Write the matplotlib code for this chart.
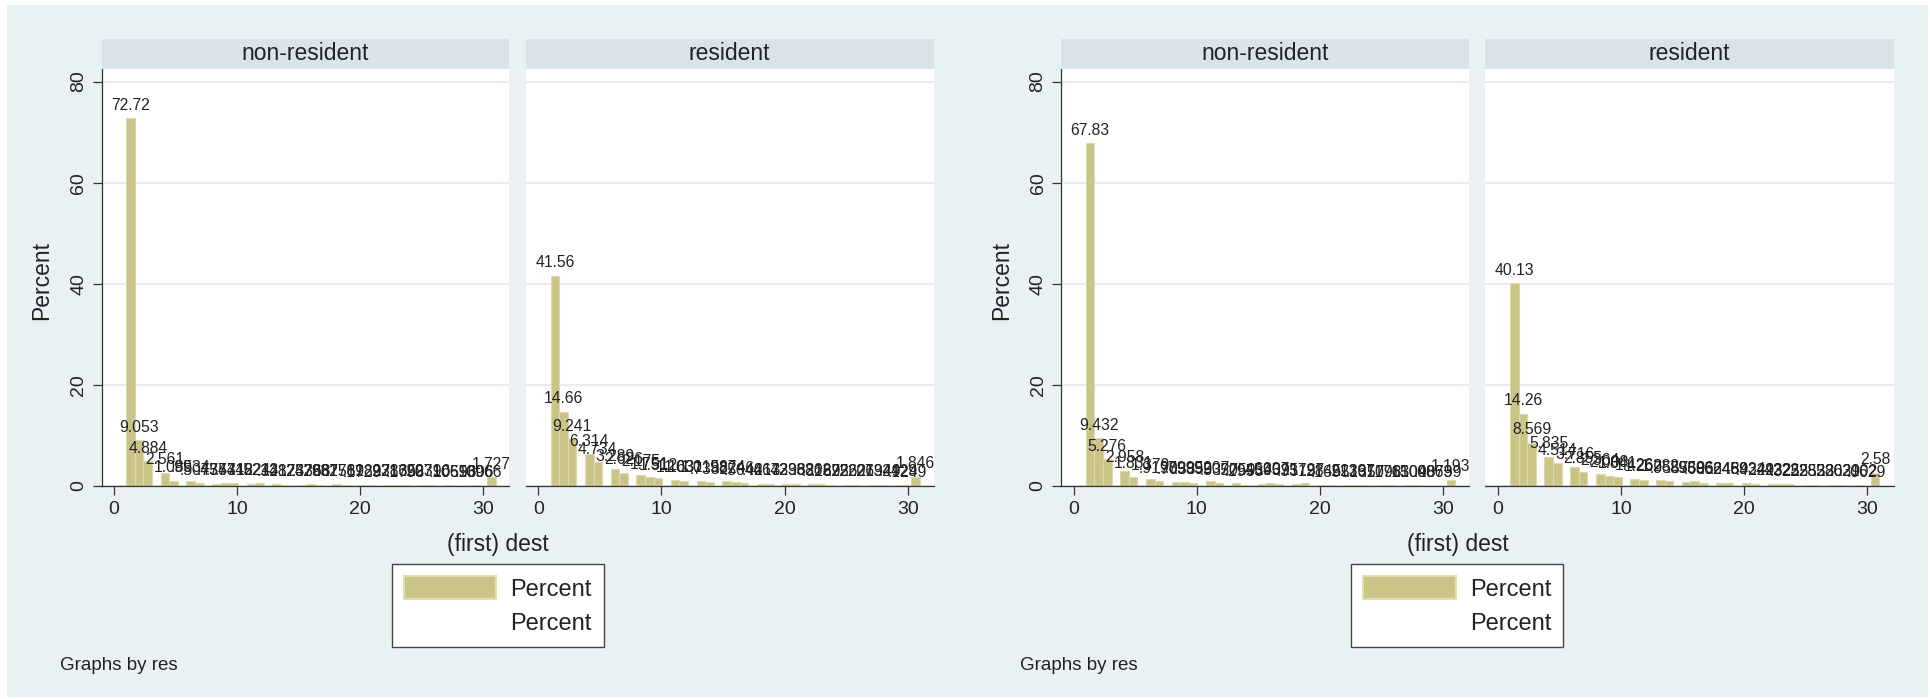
import matplotlib
matplotlib.use('Agg')
import matplotlib.pyplot as plt
from matplotlib.patches import Rectangle, Patch

plt.rcParams['font.family'] = ['Liberation Sans', 'DejaVu Sans']

# ---------------- data ----------------
dest = list(range(1, 32))                      # destination codes 1..31
panel_titles = ['non-resident', 'resident']

# graph 1 (left)
pct_nonres_1 = [72.72, 9.053, 4.884, 2.561, 1.085, .9934, .5077, .4374, .5431, .5712,
                .4824, .5213, .3417, .2825, .2478, .3368, .2967, .3176, .2589, .1729,
                .1897, .2386, .2135, .1798, .2071, .2396, .1065, .0596, .1306, .0966, 1.727]
pct_res_1 = [41.56, 14.66, 9.241, 6.314, 4.734, 3.289, 2.626, 2.175, 1.751, 1.512,
             1.163, 1.031, 1.015, .7382, .9874, .8246, .5046, .4213, .4672, .4236,
             .3982, .3862, .3169, .2872, .2562, .2206, .2734, .1949, .2429, .1249, 1.846]
# graph 2 (right)
pct_nonres_2 = [67.83, 9.432, 5.276, 2.958, 1.831, 1.379, .9198, .7033, .7995, .5859,
                .9207, .5327, .5059, .2953, .4595, .6307, .4391, .3315, .5797, .2845,
                .1695, .2139, .2267, .1357, .1098, .1763, .1504, .1098, .0863, .0799, 1.193]
pct_res_2 = [40.13, 14.26, 8.569, 5.835, 4.514, 3.716, 2.855, 2.364, 2.008, 1.841,
             1.426, 1.262, 1.282, .9557, .8559, .9306, .6852, .6246, .6489, .5934,
             .4229, .4232, .4223, .3255, .2285, .2533, .2803, .2629, .2102, .0629, 2.58]

n_bins = 43
y_ticks = [0, 20, 40, 60, 80]
x_ticks = [0, 10, 20, 30]
x_title = '(first) dest'
y_title = 'Percent'
legend_labels = ['Percent', 'Percent']
note = 'Graphs by res'

# ---------------- style ----------------
W, H = 1930, 699
BG = '#EAF1F3'
STRIP = '#D8E3EA'
GRID = '#E3ECEF'
BAR = '#CAC487'
BAR_EDGE = '#DDD9AD'
INK = '#222222'
AXIS = '#333333'

fig = plt.figure(figsize=(W / 100, H / 100), dpi=100)
fig.patch.set_facecolor('white')


def fbox(x0, y0, x1, y1):
    return [x0 / W, 1 - y1 / H, (x1 - x0) / W, (y1 - y0) / H]


fig.add_artist(Rectangle((7 / W, 1 - 697 / H), (1928 - 7) / W, (697 - 5) / H,
                         transform=fig.transFigure, facecolor=BG,
                         edgecolor='none', zorder=0))

panel_x = [(101.7, 509.5), (525.5, 934.0)]
top_strip, top_plot, bottom_plot = 38.5, 69.0, 486.0
px_per_unit_y = 5.055
px_per_unit_x = 12.31
x_zero = [114.0, 538.3]


def fmt(v):
    s = f'{v:.4g}'
    if s.startswith('0.'):
        s = s[1:]
    return s


graphs = [(0.0, pct_nonres_1, pct_res_1), (959.5, pct_nonres_2, pct_res_2)]

for off, a, b in graphs:
    for j, (vals, title) in enumerate(zip([a, b], panel_titles)):
        x0, x1 = panel_x[j]
        x0 += off
        x1 += off
        ax = fig.add_axes(fbox(x0, top_plot, x1, bottom_plot))
        ax.set_facecolor('white')
        ax.set_axisbelow(True)
        counts, edges, bars = ax.hist(dest, bins=n_bins, range=(min(dest), max(dest)),
                                      weights=vals, color=BAR, edgecolor=BAR_EDGE,
                                      linewidth=0.8)
        labels = [fmt(v) if v > 0 else '' for v in counts]
        ax.bar_label(bars, labels=labels, padding=4, fontsize=11.3, color=INK)

        xl0 = (x0 - (x_zero[j] + off)) / px_per_unit_x
        xl1 = (x1 - (x_zero[j] + off)) / px_per_unit_x
        ax.set_xlim(xl0, xl1)
        ax.set_ylim(0, (bottom_plot - top_plot) / px_per_unit_y)
        ax.set_xticks(x_ticks)
        ax.set_yticks(y_ticks)
        ax.yaxis.grid(True, color=GRID, linewidth=1.3)
        ax.xaxis.grid(False)
        for s in ['top', 'right']:
            ax.spines[s].set_visible(False)
        ax.spines['bottom'].set_color(AXIS)
        ax.spines['bottom'].set_linewidth(0.9)
        ax.tick_params(axis='both', direction='out', length=6.5, width=0.9,
                       color=AXIS, labelsize=14, labelcolor=INK, pad=4)
        if j == 0:
            ax.spines['left'].set_color(AXIS)
            ax.spines['left'].set_linewidth(0.9)
            ax.tick_params(axis='y', labelrotation=90)
            for lab in ax.get_yticklabels():
                lab.set_va('center')
        else:
            ax.spines['left'].set_visible(False)
            ax.tick_params(axis='y', left=False, labelleft=False)

        # strip
        sax = fig.add_axes(fbox(x0, top_strip, x1, top_plot))
        sax.set_facecolor(STRIP)
        sax.set_xticks([])
        sax.set_yticks([])
        for s in sax.spines.values():
            s.set_visible(False)
        sax.text(0.5, 0.5, title, ha='center', va='center', fontsize=16.5,
                 color=INK, transform=sax.transAxes)

    # titles & notes
    fig.text((42 + off) / W, 1 - 281 / H, y_title, rotation=90, ha='center',
             va='center', fontsize=16.5, color=INK)
    fig.text((498.3 + off) / W, 1 - 544 / H, x_title, ha='center', va='center',
             fontsize=16.5, color=INK)
    fig.text((60 + off) / W, 1 - 665 / H, note, ha='left', va='center',
             fontsize=13.5, color=INK)

    handles = [Patch(facecolor=BAR, edgecolor='#E2DEB4', linewidth=1.5),
               Patch(facecolor='none', edgecolor='none')]
    leg = fig.legend(handles=handles, labels=legend_labels, loc='upper left',
                     bbox_to_anchor=((391.7 + off) / W, 1 - 564 / H),
                     frameon=True, fancybox=False, framealpha=1, edgecolor='#444444',
                     facecolor='white', fontsize=17, handlelength=3.9,
                     handleheight=1.1, handletextpad=0.6, borderpad=0.52,
                     labelspacing=0.42, borderaxespad=0)
    leg.get_frame().set_linewidth(1.0)
    for t in leg.get_texts():
        t.set_color(INK)

fig.savefig('out.png', dpi=100, facecolor='white')
